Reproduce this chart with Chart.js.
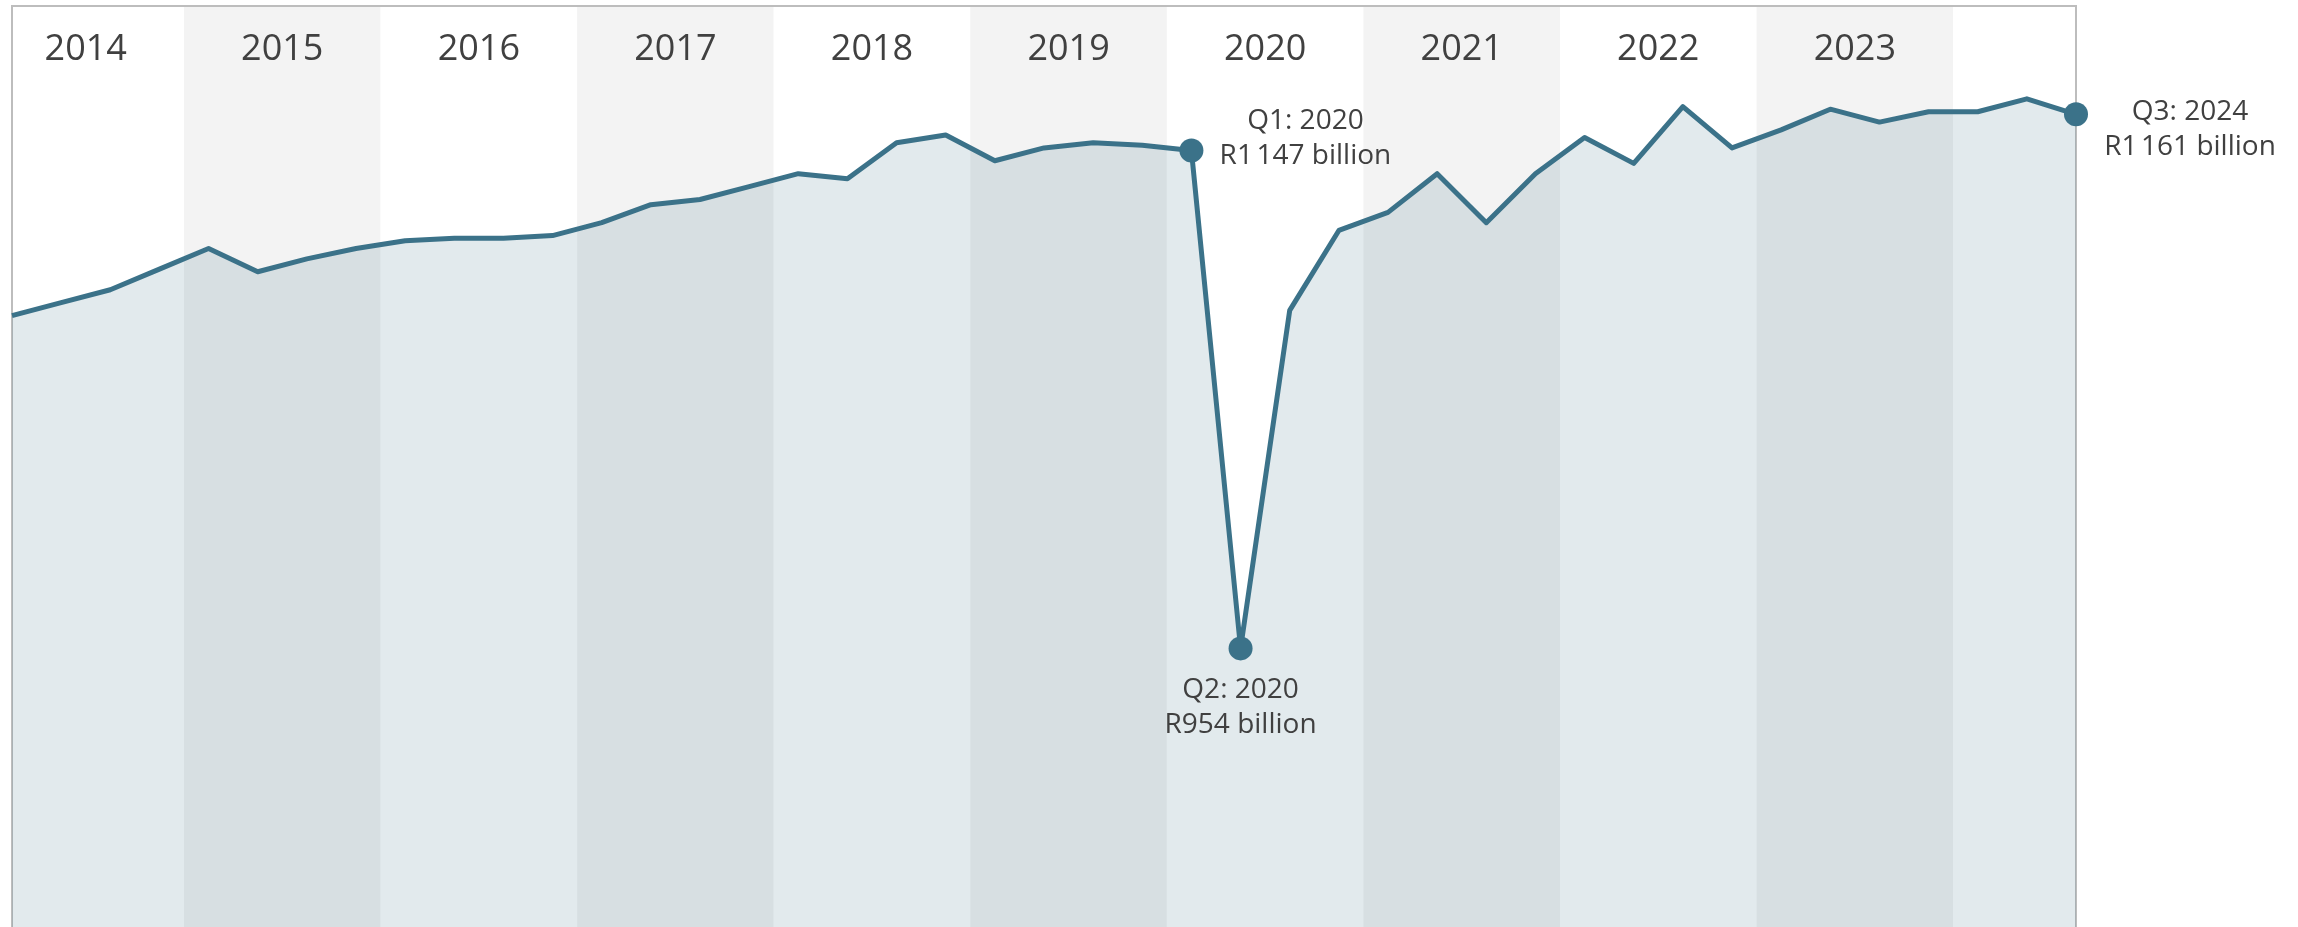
<!DOCTYPE html>
<html>
<head>
<meta charset="utf-8">
<script src="https://cdn.jsdelivr.net/npm/chart.js@4.4.1/dist/chart.umd.min.js"></script>
<style>
  html, body { margin: 0; padding: 0; background: #ffffff; }
  canvas { display: block; }
</style>
</head>
<body>
<canvas id="grafica" width="2298" height="927"></canvas>
<script>
// --- Datos ---
const years = [2014, 2015, 2016, 2017, 2018, 2019, 2020, 2021, 2022, 2023, 2024];
const quarters = ['Q1', 'Q2', 'Q3', 'Q4'];
const yearLabels = ['2014', '2015', '2016', '2017', '2018', '2019', '2020', '2021', '2022', '2023'];

// GDP, R billion, one value per quarter from Q1 2014 to Q3 2024
const gdpValues = [
  1083, 1088, 1093, 1101,
  1109, 1100, 1105, 1109,
  1112, 1113, 1113, 1114,
  1119, 1126, 1128, 1133,
  1138, 1136, 1150, 1153,
  1143, 1148, 1150, 1149,
  1147, 954, 1085, 1116,
  1123, 1138, 1119, 1138,
  1152, 1142, 1164, 1148,
  1155, 1163, 1158, 1162,
  1162, 1167, 1161
];

const highlightIndex = [24, 25, 42];
const highlightTitle = ['Q1: 2020', 'Q2: 2020', 'Q3: 2024'];
const highlightValue = ['R1\u202F147 billion', 'R954 billion', 'R1\u202F161 billion'];

const quarterLabels = [];
years.forEach(y => quarters.forEach(q => quarterLabels.push(`${q}: ${y}`)));
quarterLabels.length = gdpValues.length;

// --- Estilos ---
const lineColor = '#3b7289';
const textColor = '#404040';
const fontName = '"Open Sans", "Noto Sans", sans-serif';

// label placement relative to each highlighted point: [dx, baseline1, baseline2]
const labelPlacement = [
  [114, -21, 14],
  [0, 50, 85],
  [114, 6, 41]
];

// --- Plugin: bandas por año, borde, etiquetas ---
const yearBands = {
  id: 'yearBands',
  beforeDatasetsDraw(chart) {
    const { ctx, chartArea: a, scales: { x } } = chart;
    ctx.save();
    ctx.beginPath();
    ctx.rect(a.left, a.top, a.right - a.left, a.bottom - a.top);
    ctx.clip();
    years.forEach((yr, i) => {
      const x0 = x.getPixelForValue(i * 4 - 0.5);
      const x1 = x.getPixelForValue(i * 4 + 3.5);
      ctx.fillStyle = i % 2 ? '#f3f3f3' : '#ffffff';
      ctx.fillRect(x0, a.top, x1 - x0, a.bottom - a.top);
    });
    ctx.restore();

    // borde del área
    ctx.save();
    ctx.strokeStyle = '#bdbdbd';
    ctx.lineWidth = 2;
    ctx.beginPath();
    ctx.moveTo(a.left, a.bottom + 2);
    ctx.lineTo(a.left, a.top);
    ctx.lineTo(a.right, a.top);
    ctx.lineTo(a.right, a.bottom + 2);
    ctx.stroke();
    ctx.restore();

    // años arriba
    ctx.save();
    ctx.fillStyle = textColor;
    ctx.font = `36px ${fontName}`;
    ctx.textAlign = 'center';
    ctx.textBaseline = 'alphabetic';
    yearLabels.forEach((label, i) => {
      ctx.fillText(label, x.getPixelForValue(i * 4 + 1.5), 60);
    });
    ctx.restore();
  },
  afterDatasetsDraw(chart) {
    const { ctx, scales: { x, y } } = chart;
    ctx.save();
    ctx.fillStyle = textColor;
    ctx.font = `28px ${fontName}`;
    ctx.textAlign = 'center';
    ctx.textBaseline = 'alphabetic';
    highlightIndex.forEach((idx, i) => {
      const px = x.getPixelForValue(idx);
      const py = y.getPixelForValue(gdpValues[idx]);
      const [dx, b1, b2] = labelPlacement[i];
      ctx.fillText(highlightTitle[i], px + dx, py + b1);
      ctx.fillText(highlightValue[i], px + dx, py + b2);
    });
    ctx.restore();
  }
};

const dibujar = () => {
  const ctx = document.getElementById('grafica');
  new Chart(ctx, {
    type: 'line',
    data: {
      labels: quarterLabels,
      datasets: [{
        label: 'GDP',
        data: gdpValues,
        borderColor: lineColor,
        borderWidth: 5,
        borderJoinStyle: 'round',
        backgroundColor: 'rgba(59, 114, 137, 0.15)',
        fill: 'start',
        tension: 0,
        clip: false,
        pointRadius: c => highlightIndex.includes(c.dataIndex) ? 12 : 0,
        pointHoverRadius: c => highlightIndex.includes(c.dataIndex) ? 12 : 0,
        pointBackgroundColor: lineColor,
        pointBorderWidth: 0
      }]
    },
    options: {
      responsive: false,
      animation: false,
      devicePixelRatio: 1,
      layout: { autoPadding: false, padding: { left: 12, top: 6, right: 222, bottom: 0 } },
      plugins: {
        legend: { display: false },
        tooltip: { enabled: false }
      },
      scales: {
        x: { display: false, offset: false },
        y: { display: false, min: 846, max: 1203 }
      }
    },
    plugins: [yearBands]
  });
};

document.fonts.load(`36px "Open Sans"`).then(dibujar, dibujar);
</script>
</body>
</html>
